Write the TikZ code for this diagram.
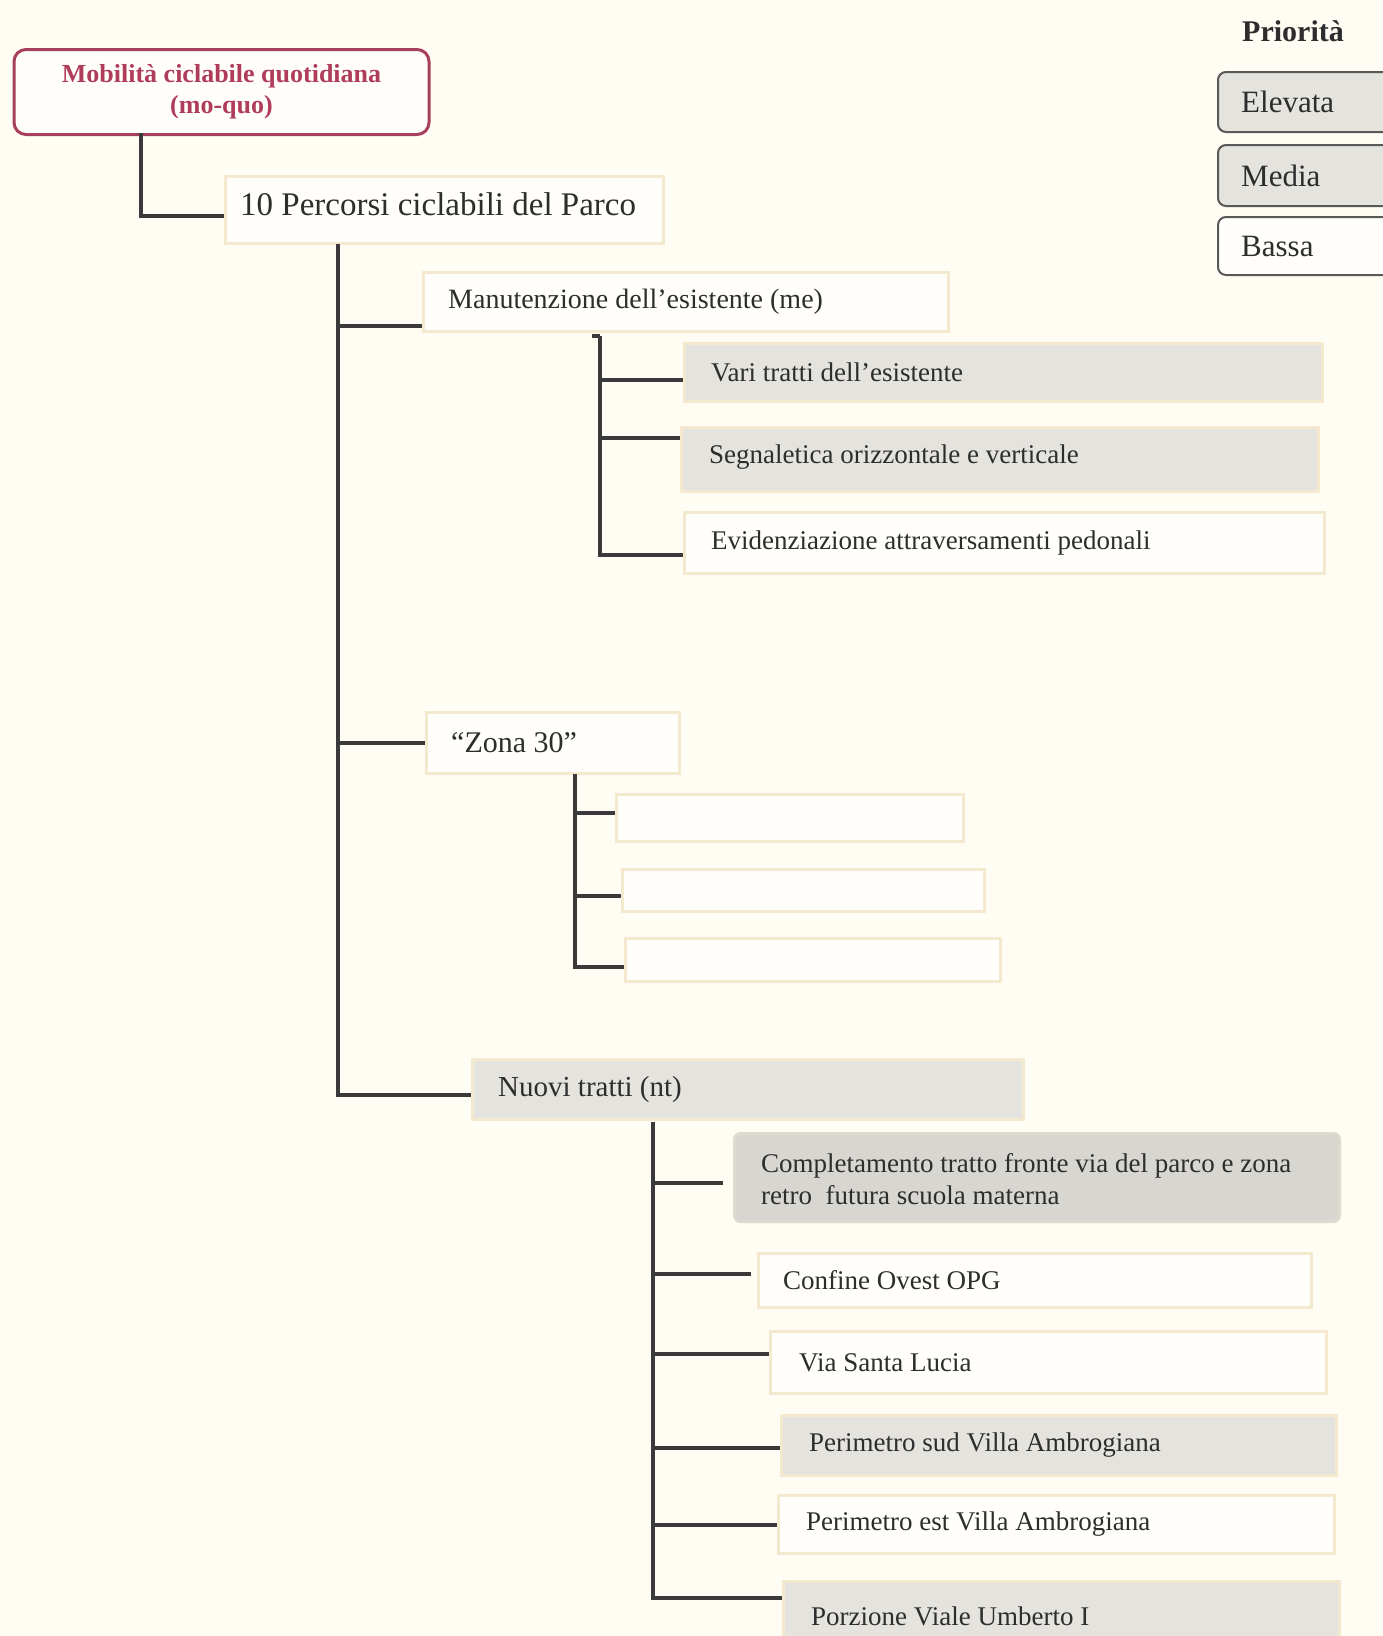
\documentclass[tikz,border=0pt]{standalone}
\usepackage{fontspec}
\setmainfont{Liberation Serif}
\usetikzlibrary{calc}
\definecolor{paper}{RGB}{254,252,243}
\definecolor{ink}{RGB}{45,45,45}
\definecolor{wire}{RGB}{58,58,58}
\definecolor{rim}{RGB}{244,233,206}
\definecolor{grey1}{RGB}{229,227,221}
\definecolor{grey2}{RGB}{216,214,208}
\definecolor{wine}{RGB}{166,64,92}
\definecolor{winetext}{RGB}{176,60,92}
\definecolor{white1}{RGB}{255,254,250}
\begin{document}
\begin{tikzpicture}[x=1pt,y=-1pt,
  conn/.style={draw=wire, line width=4pt},
  pbox/.style={draw=rim, line width=3pt, fill=white1, anchor=north west, inner sep=0pt},
  gbox/.style={pbox, fill=grey1},
  lgbox/.style={draw=black!65, line width=2pt, rounded corners=8pt, anchor=north west, inner sep=0pt},
  txt/.style={anchor=west, text=ink, inner sep=0pt, font=\fontsize{27}{32}\selectfont},
  lgtxt/.style={txt, font=\fontsize{31}{36}\selectfont},
]
\fill[paper] (0,0) rectangle (1382,1636);
\useasboundingbox (0,0) rectangle (1382,1636);

% root
\node[draw=wine, line width=3pt, rounded corners=12pt, fill=white1,
      minimum width=415pt, minimum height=85pt, align=center, text=winetext,
      font=\bfseries\fontsize{26}{31}\selectfont, anchor=north west, inner sep=0pt]
      (root) at (12.5,48) {Mobilità ciclabile quotidiana\\(mo-quo)};

% legend
\node[font=\bfseries\fontsize{30}{34}\selectfont, text=ink, inner sep=0pt] (prio) at (1293,31) {Priorità};
\node[lgbox, fill=grey1, minimum width=180pt, minimum height=60pt] (elev) at (1217,71) {};
\node[lgtxt] (elev-t) at ([xshift=24pt]elev.west) {Elevata};
\node[lgbox, fill=grey1, minimum width=180pt, minimum height=61pt] (media) at (1217,144) {};
\node[lgtxt] (media-t) at ([xshift=24pt]media.west) {Media};
\node[lgbox, fill=white1, minimum width=180pt, minimum height=58pt] (bassa) at (1217,216) {};
\node[lgtxt] (bassa-t) at ([xshift=24pt]bassa.west) {Bassa};

% level 1
\node[pbox, minimum width=438pt, minimum height=67pt] (perc) at (224,175) {};
\node[txt, font=\fontsize{33}{38}\selectfont] (perc-t) at ([xshift=16pt,yshift=6pt]perc.west) {10 Percorsi ciclabili del Parco};

% level 2
\node[pbox, minimum width=525pt, minimum height=59pt] (man) at (422,271) {};
\node[txt, font=\fontsize{28}{33}\selectfont] (man-t) at ([xshift=26pt]man.west) {Manutenzione dell’esistente (me)};
\node[pbox, minimum width=253pt, minimum height=61pt] (zona) at (425,711) {};
\node[txt, font=\fontsize{30}{35}\selectfont] (zona-t) at ([xshift=26pt]zona.west) {“Zona 30”};
\node[gbox, minimum width=551pt, minimum height=60pt] (nuovi) at (471,1058) {};
\node[txt, font=\fontsize{29}{34}\selectfont] (nuovi-t) at ([xshift=27pt]nuovi.west) {Nuovi tratti (nt)};

% maintenance items
\node[gbox, minimum width=638pt, minimum height=58pt] (vari) at (683,342) {};
\node[txt] (vari-t) at ([xshift=28pt]vari.west) {Vari tratti dell’esistente};
\node[gbox, minimum width=637pt, minimum height=64pt] (segn) at (680,426) {};
\node[txt] (segn-t) at ([xshift=29pt,yshift=2pt]segn.west) {Segnaletica orizzontale e verticale};
\node[pbox, minimum width=640pt, minimum height=61pt] (evid) at (683,511) {};
\node[txt] (evid-t) at ([xshift=28pt]evid.west) {Evidenziazione attraversamenti pedonali};

% zone 30 items
\node[pbox, minimum width=347pt, minimum height=47pt] (z1) at (615,793) {};
\node[pbox, minimum width=362pt, minimum height=42pt] (z2) at (621,868) {};
\node[pbox, minimum width=375pt, minimum height=43pt] (z3) at (624,937) {};

% new sections
\node[gbox, fill=grey2, draw=grey2!80!rim, rounded corners=6pt, minimum width=605pt, minimum height=88pt] (comp) at (733,1132) {};
\node[txt, align=left] (comp-t) at ([xshift=28pt,yshift=-2pt]comp.west) {Completamento tratto fronte via del parco e zona\\retro~ futura scuola materna};
\node[pbox, minimum width=553pt, minimum height=54pt] (conf) at (757,1252) {};
\node[txt] (conf-t) at ([xshift=26pt]conf.west) {Confine Ovest OPG};
\node[pbox, minimum width=556pt, minimum height=62pt] (lucia) at (769,1330) {};
\node[txt] (lucia-t) at ([xshift=30pt]lucia.west) {Via Santa Lucia};
\node[gbox, minimum width=555pt, minimum height=60pt] (psud) at (780,1414) {};
\node[txt] (psud-t) at ([xshift=29pt]psud.west) {Perimetro sud Villa Ambrogiana};
\node[pbox, minimum width=556pt, minimum height=58pt] (pest) at (777,1494) {};
\node[txt] (pest-t) at ([xshift=29pt]pest.west) {Perimetro est Villa Ambrogiana};
\node[gbox, minimum width=556pt, minimum height=80pt] (porz) at (782,1580) {};
\node[txt] (porz-t) at ([xshift=29pt,yshift=5pt]porz.west) {Porzione Viale Umberto I};

% trunk origins
\coordinate (t0) at (141,133);
\coordinate (t1) at (338,244);
\coordinate (t2h) at (592,336);
\coordinate (t2) at (600,336);
\coordinate (t3) at (575,774);
\coordinate (t4) at (653,1122);

% connectors
\draw[conn] (t0) |- ([yshift=-5.5pt]perc.west);

\draw[conn] (t1) |- ([yshift=-23.5pt]man.west);
\draw[conn] (t1) |- (zona.west);
\draw[conn] (t1) |- ([yshift=-5pt]nuovi.west);

\draw[conn] (t2h) -- (t2);
\draw[conn] (t2) |- ([yshift=-7pt]vari.west);
\draw[conn] (t2) |- ([yshift=22pt]segn.west);
\draw[conn] (t2) |- ([yshift=-11.5pt]evid.west);

\draw[conn] (t3) |- ([yshift=5.5pt]z1.west);
\draw[conn] (t3) |- ([yshift=-5pt]z2.west);
\draw[conn] (t3) |- ([yshift=-6.5pt]z3.west);

\draw[conn, shorten >=10pt] (t4) |- ([yshift=-5pt]comp.west);
\draw[conn, shorten >=6pt] (t4) |- ([yshift=7pt]conf.west);
\draw[conn] (t4) |- ([yshift=9pt]lucia.west);
\draw[conn] (t4) |- ([yshift=-2pt]psud.west);
\draw[conn] (t4) |- (pest.west);
\draw[conn] (t4) |- ([yshift=24pt]porz.west);
\end{tikzpicture}
\end{document}
